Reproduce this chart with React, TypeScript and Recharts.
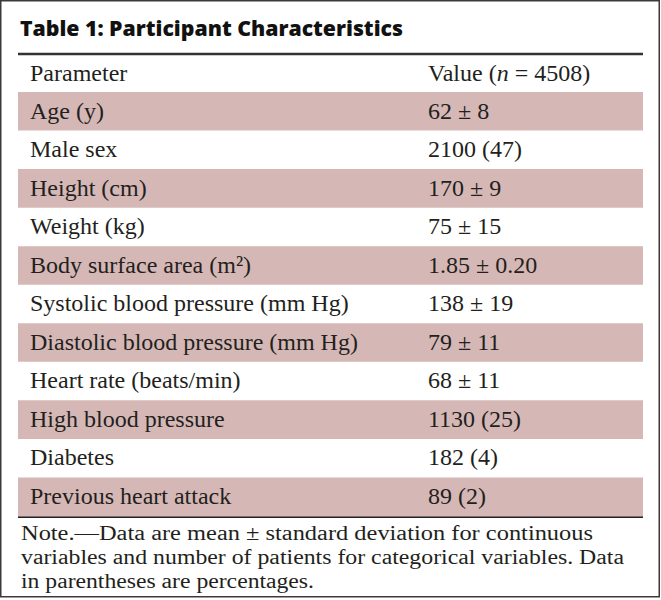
import { BarChart, Bar, XAxis, YAxis, Cell, LabelList } from 'recharts'

const parameters = [
  'Age (y)',
  'Male sex',
  'Height (cm)',
  'Weight (kg)',
  'Body surface area (m²)',
  'Systolic blood pressure (mm Hg)',
  'Diastolic blood pressure (mm Hg)',
  'Heart rate (beats/min)',
  'High blood pressure',
  'Diabetes',
  'Previous heart attack',
]

const values = [
  '62 ± 8',
  '2100 (47)',
  '170 ± 9',
  '75 ± 15',
  '1.85 ± 0.20',
  '138 ± 19',
  '79 ± 11',
  '68 ± 11',
  '1130 (25)',
  '182 (4)',
  '89 (2)',
]

const noteLines = [
  'Note.—Data are mean ± standard deviation for continuous',
  'variables and number of patients for categorical variables. Data',
  'in parentheses are percentages.',
]
// measured line widths in the reference, px
const noteWidths = [572, 603, 293]

const rows = parameters.map((parameter, i) => ({ parameter, value: values[i], band: 1 }))

const W = 661
const H = 600
const INK = '#231f20'
const PINK = '#d5b8b6'
const COL1 = 30
const COL2 = 428
const serif = { fontFamily: "'Liberation Serif', 'Times New Roman', serif", fontSize: 24 }

const CellText = (col: number) => (props: any) => {
  const { y, height, value } = props
  return (
    <text x={col} y={y + height / 2} dy={7} style={serif} fill={INK}>
      {value}
    </text>
  )
}

export default function App() {
  return (
    <div style={{ position: 'absolute', left: 0, top: 0, width: W, height: H, background: '#fff' }}>
      <BarChart
        width={W}
        height={H}
        data={rows}
        layout="vertical"
        barCategoryGap={0}
        margin={{ top: 92, right: 18, bottom: 84, left: 18 }}
      >
        <XAxis type="number" domain={[0, 1]} hide />
        <YAxis type="category" dataKey="parameter" hide />
        <Bar dataKey="band" isAnimationActive={false}>
          {rows.map((r, i) => (
            <Cell key={r.parameter} fill={i % 2 === 0 ? PINK : '#ffffff'} />
          ))}
          <LabelList dataKey="parameter" content={CellText(COL1)} />
          <LabelList dataKey="value" content={CellText(COL2)} />
        </Bar>

        <rect x={0.75} y={0.75} width={658.5} height={596} fill="none" stroke="#3a3a3a" strokeWidth={1.5} />
        <text
          x={20}
          y={36}
          textLength={383}
          lengthAdjust="spacingAndGlyphs"
          style={{ fontFamily: "'Open Sans', sans-serif", fontWeight: 800, fontSize: 21 }}
          fill="#111"
        >
          Table 1: Participant Characteristics
        </text>
        <line x1={18} x2={643} y1={54} y2={54} stroke="#333" strokeWidth={2.5} />
        <text x={COL1} y={81} style={serif} fill={INK}>
          Parameter
        </text>
        <text x={COL2} y={81} style={serif} fill={INK}>
          Value (<tspan fontStyle="italic">n</tspan> = 4508)
        </text>
        <line x1={18} x2={643} y1={517} y2={517} stroke="#222" strokeWidth={2} />
        {noteLines.map((t, i) => (
          <text
            key={t}
            x={21}
            y={540 + i * 24}
            textLength={noteWidths[i]}
            lengthAdjust="spacingAndGlyphs"
            style={{ ...serif, fontSize: 20.5 }}
            fill={INK}
          >
            {t}
          </text>
        ))}
      </BarChart>
    </div>
  )
}
